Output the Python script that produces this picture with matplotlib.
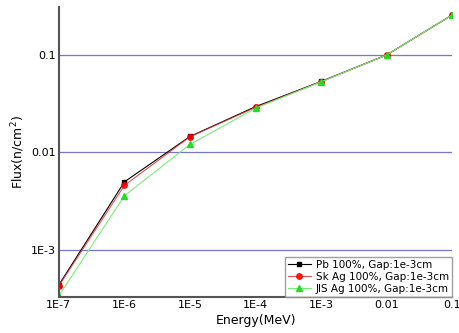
import matplotlib
matplotlib.use('Agg')
import matplotlib.pyplot as plt

# energia (MeV) e flussi
energy = [1e-7, 1e-6, 1e-5, 1e-4, 1e-3, 1e-2, 1e-1]
pb_flux = [4.4e-4, 5.0e-3, 0.0146, 0.0295, 0.0535, 0.100, 0.257]
sk_flux = [4.3e-4, 4.6e-3, 0.0145, 0.0290, 0.0530, 0.100, 0.257]
jis_flux = [3.4e-4, 3.6e-3, 0.0121, 0.0284, 0.0530, 0.100, 0.257]

x_labels = ['1E-7', '1E-6', '1E-5', '1E-4', '1E-3', '0.01', '0.1']
y_ticks = [1e-3, 1e-2, 1e-1]
y_labels = ['1E-3', '0.01', '0.1']

fig = plt.figure(figsize=(4.6, 3.33), dpi=100)
ax = fig.add_axes([0.128, 0.108, 0.855, 0.871])

ax.plot(energy, pb_flux, '-s', color='black', lw=0.8, ms=3.5, label='Pb 100%, Gap:1e-3cm')
ax.plot(energy, sk_flux, '-o', color='#dd3333', lw=0.8, ms=4, alpha=0.85,
        markerfacecolor='red', markeredgecolor='red', label='Sk Ag 100%, Gap:1e-3cm')
ax.plot(energy, jis_flux, '-^', color='#77ee77', lw=0.8, ms=4.5,
        markerfacecolor='#22dd22', markeredgecolor='#22dd22', label='JIS Ag 100%, Gap:1e-3cm')

ax.set_xscale('log')
ax.set_yscale('log')
ax.set_xlim(1e-7, 1e-1)
ax.set_ylim(3.3e-4, 0.31)

ax.set_xticks(energy)
ax.set_xticklabels(x_labels)
ax.set_yticks(y_ticks)
ax.set_yticklabels(y_labels)
ax.minorticks_off()
ax.tick_params(length=0, labelsize=8, pad=2)

# griglia orizzontale solo sulle decadi
for yv in y_ticks:
    ax.axhline(yv, color='#7777cc', lw=0.9, zorder=0)

for s in ['top', 'right']:
    ax.spines[s].set_visible(False)
for s in ['left', 'bottom']:
    ax.spines[s].set_color('#555555')
    ax.spines[s].set_linewidth(1.5)

ax.set_xlabel('Energy(MeV)', fontsize=9, labelpad=3)
ax.set_ylabel('Flux(n/cm$^2$)', fontsize=9, labelpad=3)

leg = ax.legend(loc='lower right', fontsize=7.5, frameon=True, fancybox=False,
                borderpad=0.3, labelspacing=0.2, handlelength=2.2, handletextpad=0.5,
                borderaxespad=0.0)
leg.get_frame().set_edgecolor('#888888')
leg.get_frame().set_linewidth(1.0)

fig.savefig('out.png', dpi=100)
